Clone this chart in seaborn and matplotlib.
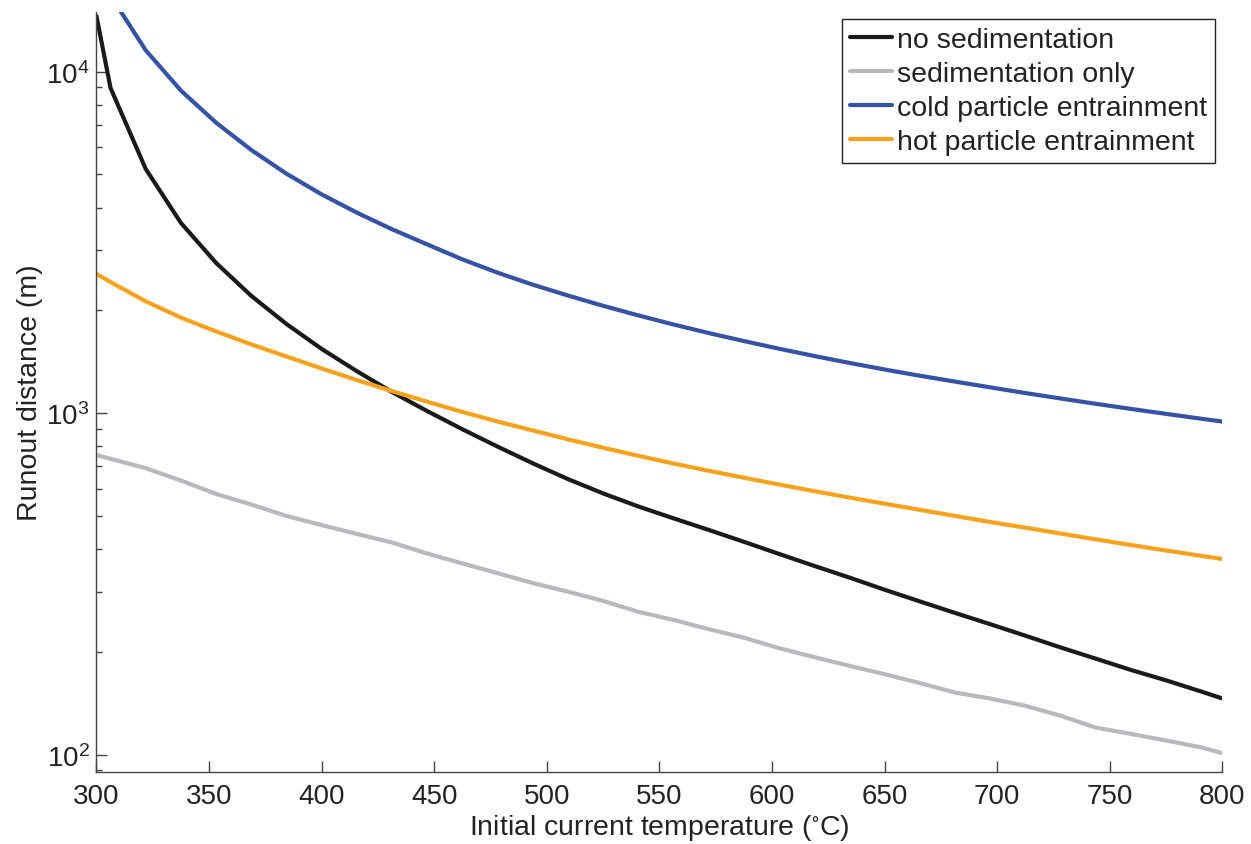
import matplotlib
matplotlib.use("Agg")
import matplotlib.pyplot as plt
import seaborn as sns
import pandas as pd
import numpy as np
from matplotlib.ticker import LogLocator, FixedLocator

# ---- data ----
temperature = [300, 306.25, 321.875, 337.5, 353.125, 368.75, 384.375, 400,
               415.625, 431.25, 446.875, 462.5, 478.125, 493.75, 509.375, 525,
               540.625, 556.25, 571.875, 587.5, 603.125, 618.75, 634.375, 650,
               665.625, 681.25, 696.875, 712.5, 728.125, 743.75, 759.375, 775,
               790.625, 800]

no_sedimentation = [14560, 8960, 5190, 3607, 2754, 2205, 1824, 1542,
                    1327, 1153, 1014, 897, 798, 713, 641, 582,
                    533, 492, 455, 420, 387, 357, 330, 304,
                    281, 260, 241, 223, 206, 191, 177, 165,
                    153, 146]

sedimentation_only = [754, 735, 690, 635, 580, 540, 500, 470,
                      443, 418, 388, 363, 340, 318, 300, 282,
                      262, 248, 233, 220, 205, 193, 182, 172,
                      162, 152, 146, 139, 130, 120, 115, 110,
                      105, 101]

cold_entrainment = [20000, 16700, 11550, 8803, 7090, 5897, 5024, 4371,
                    3865, 3455, 3120, 2820, 2578, 2378, 2210, 2062,
                    1933, 1818, 1716, 1626, 1544, 1470, 1403, 1342,
                    1287, 1237, 1190, 1145, 1104, 1065, 1029, 995,
                    963, 945]

hot_entrainment = [2556, 2421, 2125, 1905, 1735, 1590, 1465, 1352,
                   1250, 1160, 1080, 1008, 945, 890, 838, 792,
                   750, 712, 678, 647, 618, 591, 566, 543,
                   521, 500, 480, 462, 444, 427, 411, 396,
                   382, 374]

series_names = ["no sedimentation", "sedimentation only",
                "cold particle entrainment", "hot particle entrainment"]
series_values = [no_sedimentation, sedimentation_only,
                 cold_entrainment, hot_entrainment]
colors = ["#1a1a1a", "#b9b9bd", "#3452a6", "#f8a11d"]

x_ticks = [300, 350, 400, 450, 500, 550, 600, 650, 700, 750, 800]

frames = []
for name, vals in zip(series_names, series_values):
    frames.append(pd.DataFrame({"T": temperature, "R": vals, "case": name}))
df = pd.concat(frames, ignore_index=True)

# ---- style ----
sns.set_style("ticks")
plt.rcParams["font.family"] = ["Liberation Sans", "DejaVu Sans"]
plt.rcParams["mathtext.fontset"] = "custom"
plt.rcParams["mathtext.rm"] = "Liberation Sans"
plt.rcParams["mathtext.it"] = "Liberation Sans"
plt.rcParams["mathtext.default"] = "regular"

fig = plt.figure(figsize=(12.51, 8.45), dpi=100)
ax = fig.add_axes([0.0771, 0.0849, 0.9001, 0.8997])

sns.lineplot(data=df, x="T", y="R", hue="case", hue_order=series_names,
             palette=colors, linewidth=3.0, estimator=None, sort=False,
             ax=ax)

ax.set_yscale("log")
ax.set_xlim(300, 800)
ax.set_ylim(88.8, 14950)
ax.xaxis.set_major_locator(FixedLocator(x_ticks))
ax.set_xticklabels([str(t) for t in x_ticks])
ax.yaxis.set_major_locator(LogLocator(base=10, numticks=10))
ax.yaxis.set_minor_locator(LogLocator(base=10, subs=np.arange(2, 10), numticks=20))

for s in ["top", "right"]:
    ax.spines[s].set_visible(False)
for s in ["left", "bottom"]:
    ax.spines[s].set_color("#444444")
    ax.spines[s].set_linewidth(1.0)

ax.tick_params(axis="both", which="major", direction="in", length=8,
               width=1.0, color="#444444", labelsize=20, labelcolor="#222222")
ax.tick_params(axis="x", which="major", pad=8)
ax.tick_params(axis="y", which="major", pad=5)
ax.tick_params(axis="y", which="minor", direction="in", length=4.5,
               width=1.0, color="#444444")
ax.tick_params(axis="x", which="minor", bottom=False)

ax.set_xlabel(r"Initial current temperature ($^{\circ}$C)", fontsize=20.5,
              color="#222222", labelpad=2)
ax.set_ylabel("Runout distance (m)", fontsize=20.5, color="#222222", labelpad=2)

handles, labels = ax.get_legend_handles_labels()
leg = ax.legend(handles, labels, loc="upper right", fontsize=20.5,
                frameon=True, fancybox=False, edgecolor="#222222",
                handlelength=1.5, handletextpad=0.17, borderpad=0.28,
                labelspacing=0.28, borderaxespad=0.25, framealpha=1)
leg.get_frame().set_linewidth(1.0)
for t in leg.get_texts():
    t.set_color("#222222")

fig.savefig("out.png", dpi=100)
